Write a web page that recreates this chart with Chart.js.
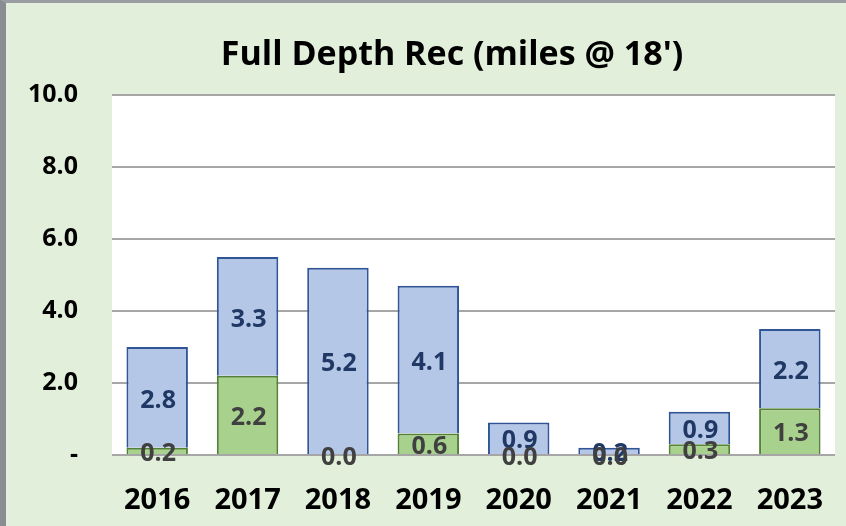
<!DOCTYPE html>
<html>
<head>
<meta charset="utf-8">
<script src="https://cdn.jsdelivr.net/npm/chart.js@4"></script>
<style>
  html, body { margin: 0; padding: 0; }
  #wrap {
    width: 846px; height: 526px; box-sizing: border-box;
    background: #e2efda;
    border-left: 6px solid #8a8d92;
    border-top: 3px solid #9a9da2;
  }
  canvas { display: block; }
</style>
</head>
<body>
<div id="wrap"><canvas id="chart" width="840" height="523"></canvas></div>
<script>
/* datos */
const years = ["2016", "2017", "2018", "2019", "2020", "2021", "2022", "2023"];
const greenMiles = [0.2, 2.2, 0.0, 0.6, 0.0, 0.0, 0.3, 1.3];
const blueMiles = [2.8, 3.3, 5.2, 4.1, 0.9, 0.2, 0.9, 2.2];
const yTicks = [0, 2, 4, 6, 8, 10];
const chartTitle = "Full Depth Rec (miles @ 18')";

const FONT = "'Open Sans', Lato, sans-serif";

/* fondo blanco del area de trazado */
const plotBg = {
    id: "plotBg",
    beforeDraw(chart) {
        const { ctx, chartArea: a } = chart;
        ctx.save();
        ctx.fillStyle = "#ffffff";
        ctx.fillRect(a.left, a.top, a.right - a.left, a.bottom - a.top);
        ctx.restore();
    }
};

/* titulo dibujado a mano (centrado un poco a la izquierda del area) */
const titleText = {
    id: "titleText",
    afterDraw(chart) {
        const { ctx } = chart;
        ctx.save();
        ctx.font = "bold 34px " + FONT;
        ctx.fillStyle = "#000000";
        ctx.textAlign = "center";
        ctx.textBaseline = "middle";
        ctx.fillText(chartTitle, 446, 52);
        ctx.restore();
    }
};

/* etiquetas de valor en el centro de cada segmento */
const segLabels = {
    id: "segLabels",
    afterDatasetsDraw(chart) {
        const { ctx } = chart;
        ctx.save();
        ctx.font = "bold 25px " + FONT;
        ctx.textAlign = "center";
        ctx.textBaseline = "middle";
        // azul primero, verde encima
        [1, 0].forEach(di => {
            const meta = chart.getDatasetMeta(di);
            const ds = chart.data.datasets[di];
            ctx.fillStyle = ds.labelColor;
            meta.data.forEach((bar, i) => {
                const p = bar.getProps(["x", "y", "base"], true);
                const yc = (p.y + p.base) / 2;
                ctx.fillText(ds.data[i].toFixed(1), p.x + 1, yc + 3);
            });
        });
        ctx.restore();
    }
};

new Chart(document.getElementById("chart"), {
    type: "bar",
    data: {
        labels: years,
        datasets: [
            {
                label: "green",
                data: greenMiles,
                backgroundColor: "#a9d18e",
                borderColor: "#548235",
                borderWidth: 2,
                labelColor: "#404040"
            },
            {
                label: "blue",
                data: blueMiles,
                backgroundColor: "#b4c7e7",
                borderColor: "#2f5597",
                borderWidth: 2,
                labelColor: "#203864"
            }
        ]
    },
    options: {
        responsive: false,
        animation: false,
        devicePixelRatio: 1,
        barPercentage: 0.68,
        categoryPercentage: 1,
        layout: { padding: { left: 0, right: 11, top: 92, bottom: 0 } },
        plugins: {
            legend: { display: false },
            tooltip: { enabled: false },
            title: { display: false }
        },
        scales: {
            x: {
                stacked: true,
                grid: { display: false, drawTicks: false },
                border: { display: false },
                ticks: {
                    color: "#000000",
                    padding: 2,
                    font: { family: FONT, size: 29, weight: "bold", lineHeight: 3 }
                },
                afterFit(scale) { scale.height = 71; }
            },
            y: {
                stacked: true,
                min: 0,
                max: 10,
                afterBuildTicks(scale) {
                    scale.ticks = yTicks.map(v => ({ value: v }));
                },
                grid: { color: "#a6a6a6", lineWidth: 2, drawTicks: false },
                border: { display: false },
                ticks: {
                    color: "#000000",
                    padding: 34,
                    font: { family: FONT, size: 25, weight: "bold" },
                    callback: v => v === 0 ? "-" : v.toFixed(1)
                },
                afterFit(scale) { scale.width = 106; }
            }
        }
    },
    plugins: [plotBg, segLabels, titleText]
});
</script>
</body>
</html>
